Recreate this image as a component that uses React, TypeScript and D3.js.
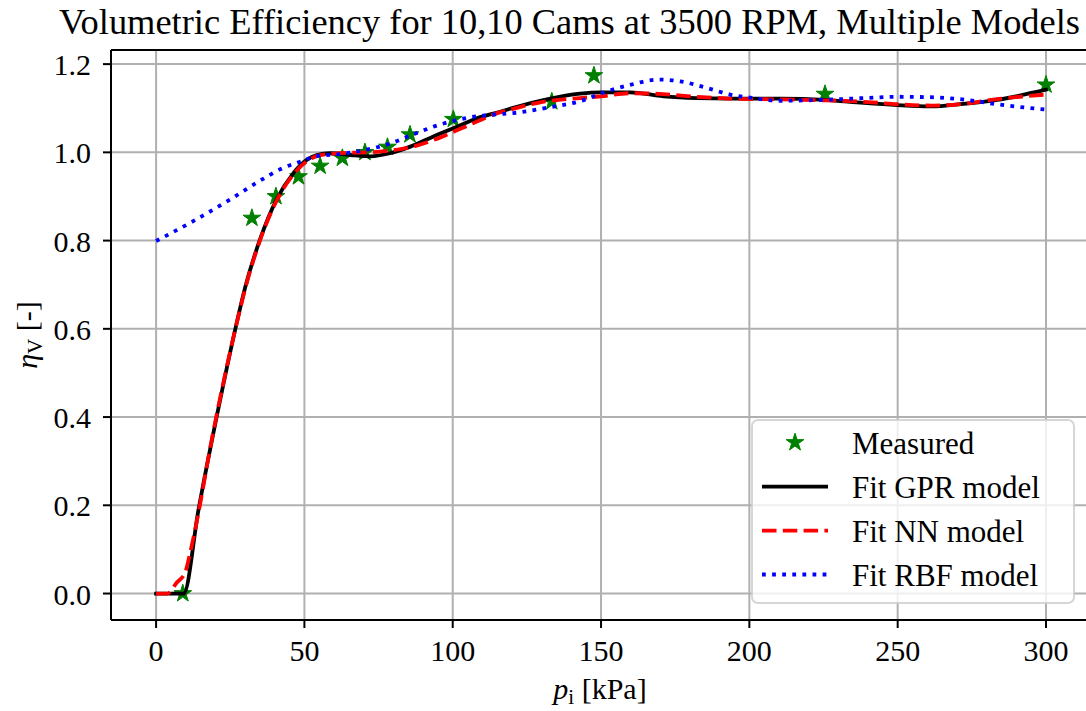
import React from "react";
import * as d3 from "d3";

// ---------- data ----------
const measP = [9.0, 32.3, 40.4, 48.0, 55.3, 62.8, 70.4, 78.0, 85.6, 100.2, 133.4, 147.6, 225.5, 300.0];
const measEta = [0.0, 0.851, 0.9, 0.945, 0.969, 0.987, 1.0, 1.012, 1.04, 1.075, 1.115, 1.174, 1.132, 1.153];

const gprP = [0, 9.3, 14.3, 20.5, 27.2, 30, 35, 40.6, 46.3, 50.8, 54.2, 58.7, 65.4, 72.2, 78.9, 85.7, 93.5, 101.4, 108.1, 116, 120.4, 131.7, 142.9, 149.7, 159.8, 171, 182.3, 193.5, 210.4, 225.6, 238.5, 249.7, 261, 272.2, 283.5, 300];
const gprEta = [0, 0, 0.19, 0.403, 0.614, 0.693, 0.802, 0.893, 0.953, 0.983, 0.994, 0.998, 0.994, 0.991, 0.998, 1.013, 1.036, 1.058, 1.077, 1.092, 1.101, 1.12, 1.133, 1.136, 1.136, 1.127, 1.123, 1.122, 1.122, 1.119, 1.112, 1.107, 1.104, 1.11, 1.119, 1.142];

const nnP = [0, 3.8, 7, 9.8, 11.5, 13.2, 18.8, 26.7, 30, 35, 40.6, 46.3, 50.8, 55, 60, 65, 72, 80, 86, 93.5, 101.4, 110, 115, 120, 130, 143, 150, 160, 171, 182, 193.5, 210, 225, 240, 250, 262, 272, 284, 300];
const nnEta = [0, 0, 0.025, 0.048, 0.093, 0.146, 0.35, 0.599, 0.69, 0.8, 0.89, 0.95, 0.98, 0.993, 0.997, 0.999, 1.0, 1.005, 1.012, 1.028, 1.05, 1.075, 1.089, 1.098, 1.114, 1.123, 1.127, 1.134, 1.132, 1.126, 1.122, 1.12, 1.118, 1.114, 1.109, 1.106, 1.11, 1.121, 1.131];

const rbfP = [0, 12.5, 24.9, 33.9, 42.9, 47.4, 54.1, 63.1, 71, 78.9, 87.9, 95.7, 104.7, 114.7, 120.4, 131.7, 142.9, 151.9, 159.8, 169.3, 176.7, 185.7, 193.5, 201.4, 210.4, 225, 238.4, 249.7, 261, 273.3, 284.6, 300];
const rbfEta = [0.799, 0.844, 0.893, 0.931, 0.965, 0.976, 0.991, 0.997, 1.006, 1.02, 1.044, 1.063, 1.078, 1.086, 1.089, 1.101, 1.116, 1.138, 1.153, 1.165, 1.161, 1.146, 1.131, 1.123, 1.117, 1.119, 1.123, 1.126, 1.125, 1.119, 1.108, 1.097];

const xTicks = [0, 50, 100, 150, 200, 250, 300];
const yTicks = [0.0, 0.2, 0.4, 0.6, 0.8, 1.0, 1.2];

const titleText = "Volumetric Efficiency for 10,10 Cams at 3500 RPM, Multiple Models";
const legendLabels = ["Measured", "Fit GPR model", "Fit NN model", "Fit RBF model"];

// ---------- layout ----------
const W = 1086;
const H = 711;
const L = 111;
const R = 1089;
const T = 50;
const B = 620;
const FONT = "'Liberation Serif', 'DejaVu Serif', serif";

export default function App() {
  const x = d3.scaleLinear().domain([-15.2, 314.5]).range([L, R]);
  const y = d3.scaleLinear().domain([-0.06, 1.232]).range([B, T]);

  const line = d3
    .line<[number, number]>()
    .x((d) => x(d[0]))
    .y((d) => y(d[1]))
    .curve(d3.curveMonotoneX);

  const zip = (a: number[], b: number[]) => a.map((v, i) => [v, b[i]] as [number, number]);

  const star = d3.symbol().type(d3.symbolStar).size(97)() as string;
  const lw = 3.8;

  const series = [
    { p: gprP, e: gprEta, color: "#000000", dash: undefined as string | undefined },
    { p: nnP, e: nnEta, color: "#ff0000", dash: "14.5,6.3" },
    { p: rbfP, e: rbfEta, color: "#0000ff", dash: "3.8,6.3" },
  ];

  // legend layout
  const lgX = 752;
  const lgY = 420;
  const lgW = 322;
  const lgH = 183;
  const rowY = [442.5, 486.7, 530.7, 574.5];

  return (
    <svg
      width={W}
      height={H}
      style={{ position: "absolute", left: 0, top: 0, background: "#fff" }}
      fontFamily={FONT}
    >
      <rect x={0} y={0} width={W} height={H} fill="#fff" />
      <defs>
        <clipPath id="plotclip">
          <rect x={L} y={T} width={R - L} height={B - T} />
        </clipPath>
      </defs>

      {/* grid */}
      <g stroke="#b0b0b0" strokeWidth={2}>
        {xTicks.map((t) => (
          <line key={"gx" + t} x1={x(t)} x2={x(t)} y1={T} y2={B} />
        ))}
        {yTicks.map((t) => (
          <line key={"gy" + t} x1={L} x2={R} y1={y(t)} y2={y(t)} />
        ))}
      </g>

      {/* data */}
      <g clipPath="url(#plotclip)">
        {measP.map((p, i) => (
          <path
            key={"m" + i}
            d={star}
            transform={`translate(${x(p)},${y(measEta[i])})`}
            fill="#008000"
            stroke="#008000"
            strokeWidth={1}
          />
        ))}
        {series.map((s, i) => (
          <path
            key={"s" + i}
            d={line(zip(s.p, s.e)) as string}
            fill="none"
            stroke={s.color}
            strokeWidth={lw}
            strokeDasharray={s.dash}
            strokeLinecap={s.dash ? "butt" : "square"}
            strokeLinejoin="round"
          />
        ))}
      </g>

      {/* spines */}
      <g stroke="#000" strokeWidth={2} fill="none">
        <line x1={L} x2={L} y1={T} y2={B} />
        <line x1={L} x2={R} y1={B} y2={B} />
        <line x1={L} x2={R} y1={T} y2={T} />
        <line x1={R} x2={R} y1={T} y2={B} />
      </g>

      {/* ticks */}
      <g stroke="#000" strokeWidth={2}>
        {xTicks.map((t) => (
          <line key={"tx" + t} x1={x(t)} x2={x(t)} y1={B} y2={B + 8} />
        ))}
        {yTicks.map((t) => (
          <line key={"ty" + t} x1={L - 8} x2={L} y1={y(t)} y2={y(t)} />
        ))}
      </g>
      <g fontSize={30} fill="#000">
        {xTicks.map((t) => (
          <text key={"lx" + t} x={x(t)} y={661} textAnchor="middle">
            {String(t)}
          </text>
        ))}
        {yTicks.map((t) => (
          <text key={"ly" + t} x={91} y={y(t) + 11} textAnchor="end">
            {t.toFixed(1)}
          </text>
        ))}
      </g>

      {/* axis labels */}
      <text x={(L + R) / 2} y={699} textAnchor="middle" fontSize={30}>
        <tspan fontStyle="italic">p</tspan>
        <tspan fontSize={21} dy={5}>i</tspan>
        <tspan dy={-5}> [kPa]</tspan>
      </text>
      <text
        transform={`translate(37,${(T + B) / 2}) rotate(-90)`}
        textAnchor="middle"
        fontSize={30}
      >
        <tspan fontStyle="italic">η</tspan>
        <tspan fontSize={21} dy={5}>V</tspan>
        <tspan dy={-5}> [-]</tspan>
      </text>

      {/* title */}
      <text x={59} y={34} fontSize={35} textLength={1021} lengthAdjust="spacingAndGlyphs">
        {titleText}
      </text>

      {/* legend */}
      <rect
        x={lgX}
        y={lgY}
        width={lgW}
        height={lgH}
        rx={6}
        fill="#fff"
        fillOpacity={0.8}
        stroke="#cccccc"
        strokeOpacity={0.8}
        strokeWidth={2}
      />
      <path d={star} transform={`translate(795,${rowY[0]})`} fill="#008000" stroke="#008000" strokeWidth={1} />
      {series.map((s, i) => (
        <line
          key={"lg" + i}
          x1={762}
          x2={828}
          y1={rowY[i + 1]}
          y2={rowY[i + 1]}
          stroke={s.color}
          strokeWidth={lw}
          strokeDasharray={s.dash}
          strokeLinecap="butt"
        />
      ))}
      {legendLabels.map((lab, i) => (
        <text key={"lt" + i} x={852} y={rowY[i] + 11} fontSize={31}>
          {lab}
        </text>
      ))}
    </svg>
  );
}
